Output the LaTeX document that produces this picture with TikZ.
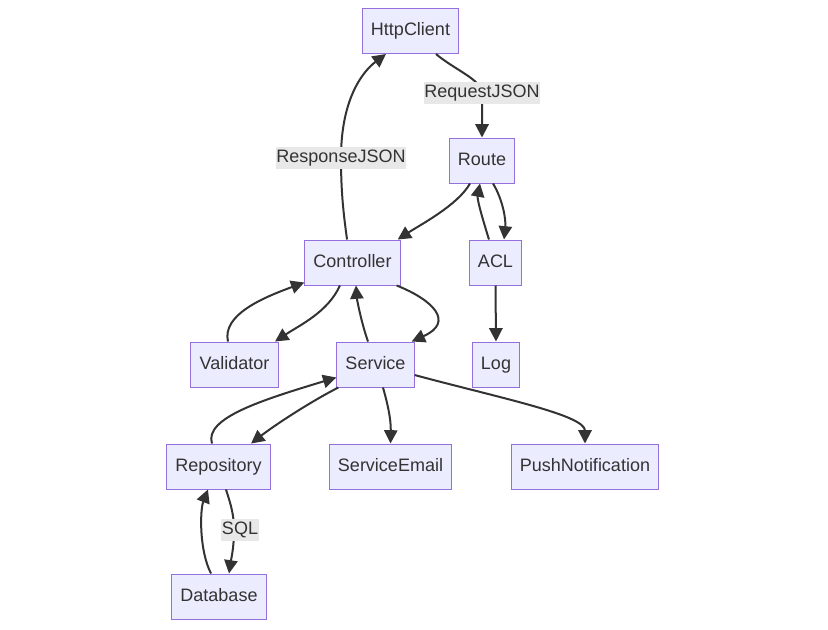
\documentclass[tikz,border=0pt]{standalone}
\usepackage{fontspec}
\setmainfont{Liberation Sans}
\usetikzlibrary{arrows.meta}
\definecolor{nodefill}{HTML}{ECECFF}
\definecolor{nodeline}{HTML}{9370DB}
\definecolor{ink}{HTML}{333333}
\definecolor{lblfill}{HTML}{E8E8E8}

\begin{document}
\begin{tikzpicture}[x=0.75pt, y=-0.75pt,
  box/.style={draw=nodeline, fill=nodefill, line width=0.75pt, text=ink,
    minimum height=33.75pt, inner xsep=6.5pt, text height=10pt, text depth=3pt,
    font=\fontsize{13.5}{16}\selectfont},
  lbl/.style={fill=lblfill, text=ink, inner xsep=0.5pt, inner ysep=0pt,
    minimum height=16.5pt, text height=10pt, text depth=3pt,
    font=\fontsize{13.5}{16}\selectfont},
  flow/.style={draw=ink, line width=1.5pt, -{Triangle[length=10pt,width=10pt]}}]
  \useasboundingbox (0,0) rectangle (828,629);
  % boxes
  \node[box] (http)  at (410.5,31)    {HttpClient};
  \node[box] (route) at (482,160.5)   {Route};
  \node[box] (ctrl)  at (352.5,262.5) {Controller};
  \node[box] (acl)   at (495.5,262.5) {ACL};
  \node[box] (valid) at (234.5,364.5) {Validator};
  \node[box] (svc)   at (375.5,364.5) {Service};
  \node[box] (log)   at (496,364.5)   {Log};
  \node[box] (repo)  at (218.5,466.5) {Repository};
  \node[box] (email) at (390.5,466.5) {ServiceEmail};
  \node[box] (push)  at (585,466.5)   {PushNotification};
  \node[box] (db)    at (219,596.5)   {Database};
  % request / response
  \draw[flow] ([xshift=-4.1pt]ctrl.north) .. controls (343,210) and (341,190) .. (341,158)
    node[lbl]{ResponseJSON} .. controls (341,100) and (362,72) .. ([xshift=-18.4pt]http.south);
  \draw[flow] ([xshift=19.1pt]http.south) .. controls (455,70) and (482,80) .. (482,93)
    node[lbl]{RequestJSON} -- (route.north);
  % route, acl, log
  \draw[flow] ([xshift=-9pt]route.south) .. controls (458,205) and (420,225) .. ([xshift=-2.25pt]ctrl.north east);
  \draw[flow] ([xshift=8.25pt]route.south) .. controls (503,200) and (506,220) .. ([xshift=6.4pt]acl.north);
  \draw[flow] ([xshift=-4.9pt]acl.north) .. controls (483,220) and (477,200) .. ([xshift=-1.5pt]route.south);
  \draw[flow] (acl.south) -- (log.north);
  % controller, validator, service
  \draw[flow] ([xshift=-4.9pt]valid.north) .. controls (222,315) and (262,298) .. ([yshift=2.25pt]ctrl.south west);
  \draw[flow] ([xshift=-9.4pt]ctrl.south) .. controls (328,312) and (300,325) .. ([xshift=30.4pt]valid.north);
  \draw[flow] ([xshift=-3pt]ctrl.south east) .. controls (433,300) and (455,322) .. ([xshift=-2.25pt]svc.north east);
  \draw[flow] ([xshift=-5.6pt]svc.north) .. controls (362,325) and (357,300) .. ([xshift=2.6pt]ctrl.south);
  % service and below
  \draw[flow] ([xshift=-4.9pt]repo.north) .. controls (204,418) and (262,400) .. ([yshift=7.5pt]svc.south west);
  \draw[flow] ([xshift=1.5pt]svc.south west) .. controls (310,402) and (275,425) .. ([xshift=24.4pt]repo.north);
  \draw[flow] ([xshift=5.6pt]svc.south) .. controls (388,405) and (391,420) .. (email.north);
  \draw[flow] ([yshift=-7.9pt]svc.east) .. controls (500,398) and (585,415) .. (push.north);
  % repository and database
  \draw[flow] ([xshift=5.6pt]repo.south) .. controls (231,505) and (234,515) .. (234,530)
    node[lbl,xshift=4.5pt]{SQL} .. controls (234,548) and (231,560) .. ([xshift=7.5pt]db.north);
  \draw[flow] ([xshift=-6pt]db.north) .. controls (199,550) and (200,510) .. ([xshift=-7.9pt]repo.south);
\end{tikzpicture}
\end{document}
